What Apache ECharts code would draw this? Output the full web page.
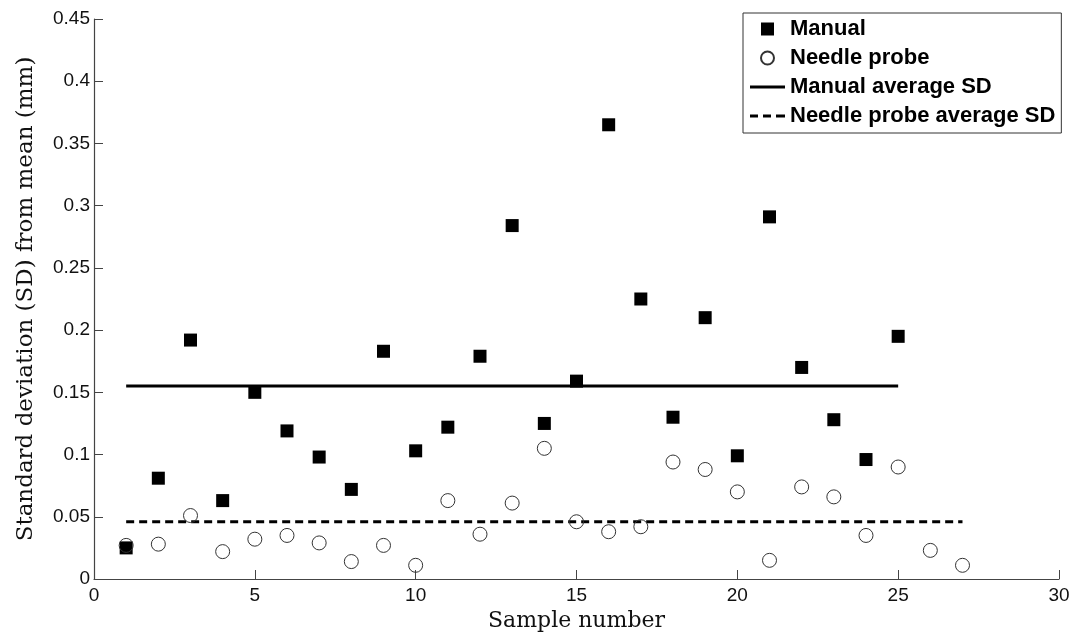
<!DOCTYPE html>
<html>
<head>
<meta charset="utf-8">
<script src="https://cdn.jsdelivr.net/npm/echarts@6/dist/echarts.min.js"></script>
<style>
  html, body { margin: 0; padding: 0; background: #fff; }
  #chart { width: 1071px; height: 632px; }
</style>
</head>
<body>
<div id="chart"></div>
<script>
// sample numbers
const manualSamples = [1, 2, 3, 4, 5, 6, 7, 8, 9, 10, 11, 12, 13, 14, 15, 16, 17, 18, 19, 20, 21, 22, 23, 24, 25];
const manualSD = [0.025, 0.081, 0.192, 0.063, 0.150, 0.119, 0.098, 0.072, 0.183, 0.103, 0.122, 0.179, 0.284, 0.125, 0.159,
  0.365, 0.225, 0.130, 0.210, 0.099, 0.291, 0.170, 0.128, 0.096, 0.195];

const needleSamples = [1, 2, 3, 4, 5, 6, 7, 8, 9, 10, 11, 12, 13, 14, 15, 16, 17, 18, 19, 20, 21, 22, 23, 24, 25, 26, 27];
const needleSD = [0.027, 0.028, 0.051, 0.022, 0.032, 0.035, 0.029, 0.014, 0.027, 0.011, 0.063, 0.036, 0.061, 0.105, 0.046,
  0.038, 0.042, 0.094, 0.088, 0.070, 0.015, 0.074, 0.066, 0.035, 0.090, 0.023, 0.011];

// average lines: [start sample, end sample], value
const manualAvgRange = [1, 25];
const manualAvg = 0.155;
const needleAvgRange = [1, 27];
const needleAvg = 0.046;

const xTicks = [0, 5, 10, 15, 20, 25, 30];
const yTicks = [0, 0.05, 0.1, 0.15, 0.2, 0.25, 0.3, 0.35, 0.4, 0.45];

const pair = (xs, ys) => xs.map((x, i) => [x, ys[i]]);

// legend glyphs (path icons keep their aspect inside the item box)
const squareIcon = 'path://M0,0h13v13h-13z';
const solidIcon = 'path://M0,0h35v3h-35z';
const dashIcon = 'path://M0,0h8v3h-8zM13,0h8v3h-8zM26,0h9v3h-9z';

const chart = echarts.init(document.getElementById('chart'));

const tickFont = 'Liberation Sans, Arial, sans-serif';
const nameFont = 'DejaVu Serif, serif';

const option = {
  animation: false,
  backgroundColor: '#fff',
  grid: { left: 94, right: 12, top: 19, bottom: 53, outerBoundsMode: 'none', containLabel: false },
  legend: {
    orient: 'vertical',
    left: 743,
    top: 13,
    padding: [5, 6, 6, 7],
    borderColor: '#333',
    borderWidth: 1,
    itemWidth: 35,
    itemHeight: 13,
    itemGap: 7,
    selectedMode: false,
    textStyle: {
      fontFamily: tickFont,
      fontWeight: 'bold',
      fontSize: 22,
      color: '#000',
      lineHeight: 22
    },
    data: [
      { name: 'Manual', icon: squareIcon },
      { name: 'Needle probe', icon: 'circle' },
      { name: 'Manual average SD', icon: solidIcon },
      { name: 'Needle probe average SD', icon: dashIcon }
    ]
  },
  xAxis: {
    type: 'value',
    min: xTicks[0],
    max: xTicks[xTicks.length - 1],
    interval: 5,
    name: 'Sample number',
    nameLocation: 'middle',
    nameGap: 26,
    nameTextStyle: { fontFamily: nameFont, fontSize: 22, color: '#111' },
    splitLine: { show: false },
    axisLine: { lineStyle: { color: '#444', width: 1.2 } },
    axisTick: { inside: true, length: 9, lineStyle: { color: '#444' } },
    axisLabel: { fontFamily: tickFont, fontSize: 19, color: '#111', margin: 7 }
  },
  yAxis: {
    type: 'value',
    min: yTicks[0],
    max: yTicks[yTicks.length - 1],
    interval: 0.05,
    name: 'Standard deviation (SD) from mean (mm)',
    nameLocation: 'middle',
    nameGap: 56,
    nameTextStyle: { fontFamily: nameFont, fontSize: 23, color: '#111' },
    splitLine: { show: false },
    axisLine: { show: true, lineStyle: { color: '#444', width: 1.2 } },
    axisTick: { show: true, inside: true, length: 9, lineStyle: { color: '#444' } },
    axisLabel: { fontFamily: tickFont, fontSize: 19, color: '#111', margin: 4 }
  },
  series: [
    {
      name: 'Manual',
      type: 'scatter',
      symbol: 'rect',
      symbolSize: 13,
      itemStyle: { color: '#000', opacity: 1 },
      data: pair(manualSamples, manualSD),
      z: 3
    },
    {
      name: 'Needle probe',
      type: 'scatter',
      symbol: 'circle',
      symbolSize: 14,
      itemStyle: { color: 'rgba(255,255,255,0)', borderColor: '#333', borderWidth: 1, opacity: 1 },
      data: pair(needleSamples, needleSD),
      z: 4
    },
    {
      name: 'Manual average SD',
      type: 'line',
      symbol: 'none',
      lineStyle: { color: '#000', width: 3 },
      itemStyle: { color: '#000' },
      data: manualAvgRange.map(x => [x, manualAvg]),
      z: 2
    },
    {
      name: 'Needle probe average SD',
      type: 'line',
      symbol: 'none',
      lineStyle: { color: '#000', width: 3, type: [8, 5] },
      itemStyle: { color: '#000' },
      data: needleAvgRange.map(x => [x, needleAvg]),
      z: 2
    }
  ]
};

chart.setOption(option);
window.addEventListener('resize', () => chart.resize());
</script>
</body>
</html>
